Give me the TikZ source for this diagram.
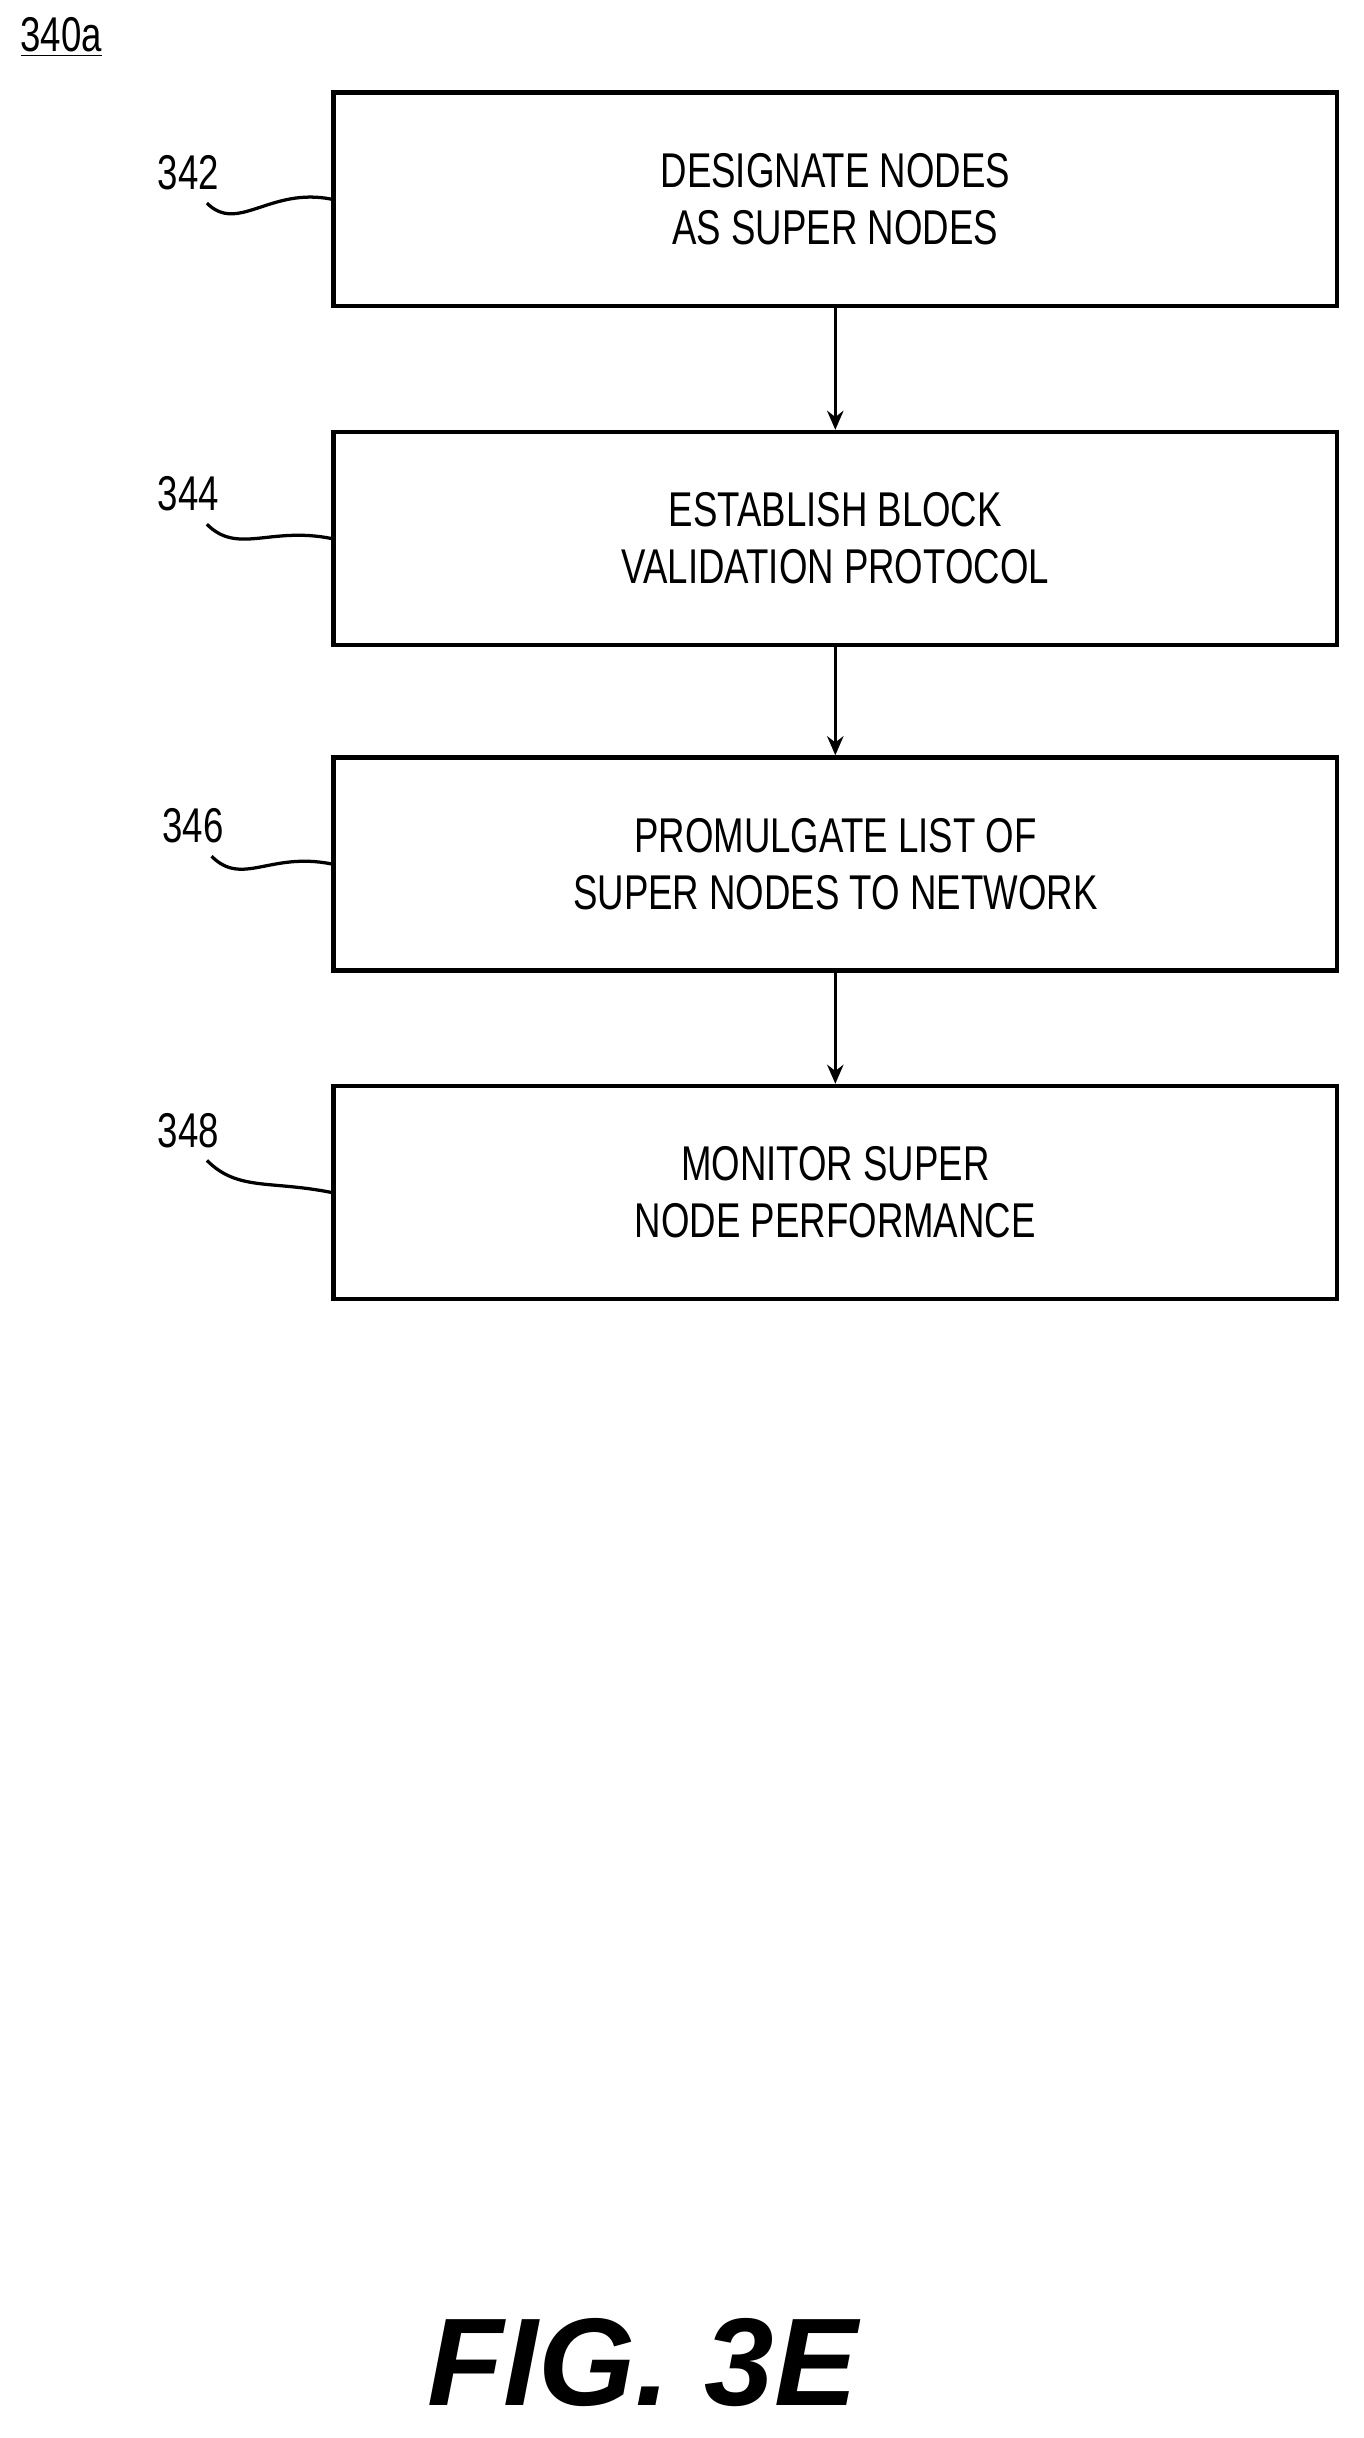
\documentclass[tikz,border=0pt]{standalone}
\usepackage{fontspec}
\setmainfont{Liberation Sans}[FakeStretch=0.75]
\newfontfamily\figfont{Liberation Sans}
\usetikzlibrary{arrows.meta,positioning}

\tikzset{
	box/.style={draw, line width=1.6pt, minimum width=13.0cm, minimum height=2.76cm,
		align=center, font=\fontsize{18}{21}\selectfont, inner sep=0pt},
	ref/.style={font=\fontsize{18}{21}\selectfont, inner sep=0pt},
	flow/.style={-{Stealth[length=7pt,width=6pt]}, line width=1.2pt},
	lead/.style={line width=1.2pt}
}

\begin{document}
\begin{tikzpicture}[x=0.02cm, y=-0.02cm]
	\useasboundingbox (0,0) rectangle (883,1579);
	\node[ref, anchor=west] (fig) at (13,24) {\underline{340a}};
	% process steps
	\node[box] (s342) at (541,129) {DESIGNATE NODES\\AS SUPER NODES};
	\node[box, below=1.58cm of s342] (s344) {ESTABLISH BLOCK\\VALIDATION PROTOCOL};
	\node[box, below=1.4cm of s344] (s346) {PROMULGATE LIST OF\\SUPER NODES TO NETWORK};
	\node[box, below=1.44cm of s346] (s348) {MONITOR SUPER\\NODE PERFORMANCE};
	\draw[flow] (s342) -- (s344);
	\draw[flow] (s344) -- (s346);
	\draw[flow] (s346) -- (s348);
	% reference numerals
	\node[ref] (r342) at (122,112) {342};
	\node[ref] (r344) at (122,320) {344};
	\node[ref] (r346) at (125,535) {346};
	\node[ref] (r348) at (122,732) {348};
	\foreach \r/\s in {r342/s342,r344/s344,r346/s346,r348/s348}
		\draw[lead] (\r.south) ++(12,8) .. controls +(20,20) and +(-40,-8) .. (\s.west);
	\node[font=\figfont\fontsize{46}{50}\selectfont\bfseries\itshape] (title) at (416,1530) {FIG. 3E};
\end{tikzpicture}
\end{document}
